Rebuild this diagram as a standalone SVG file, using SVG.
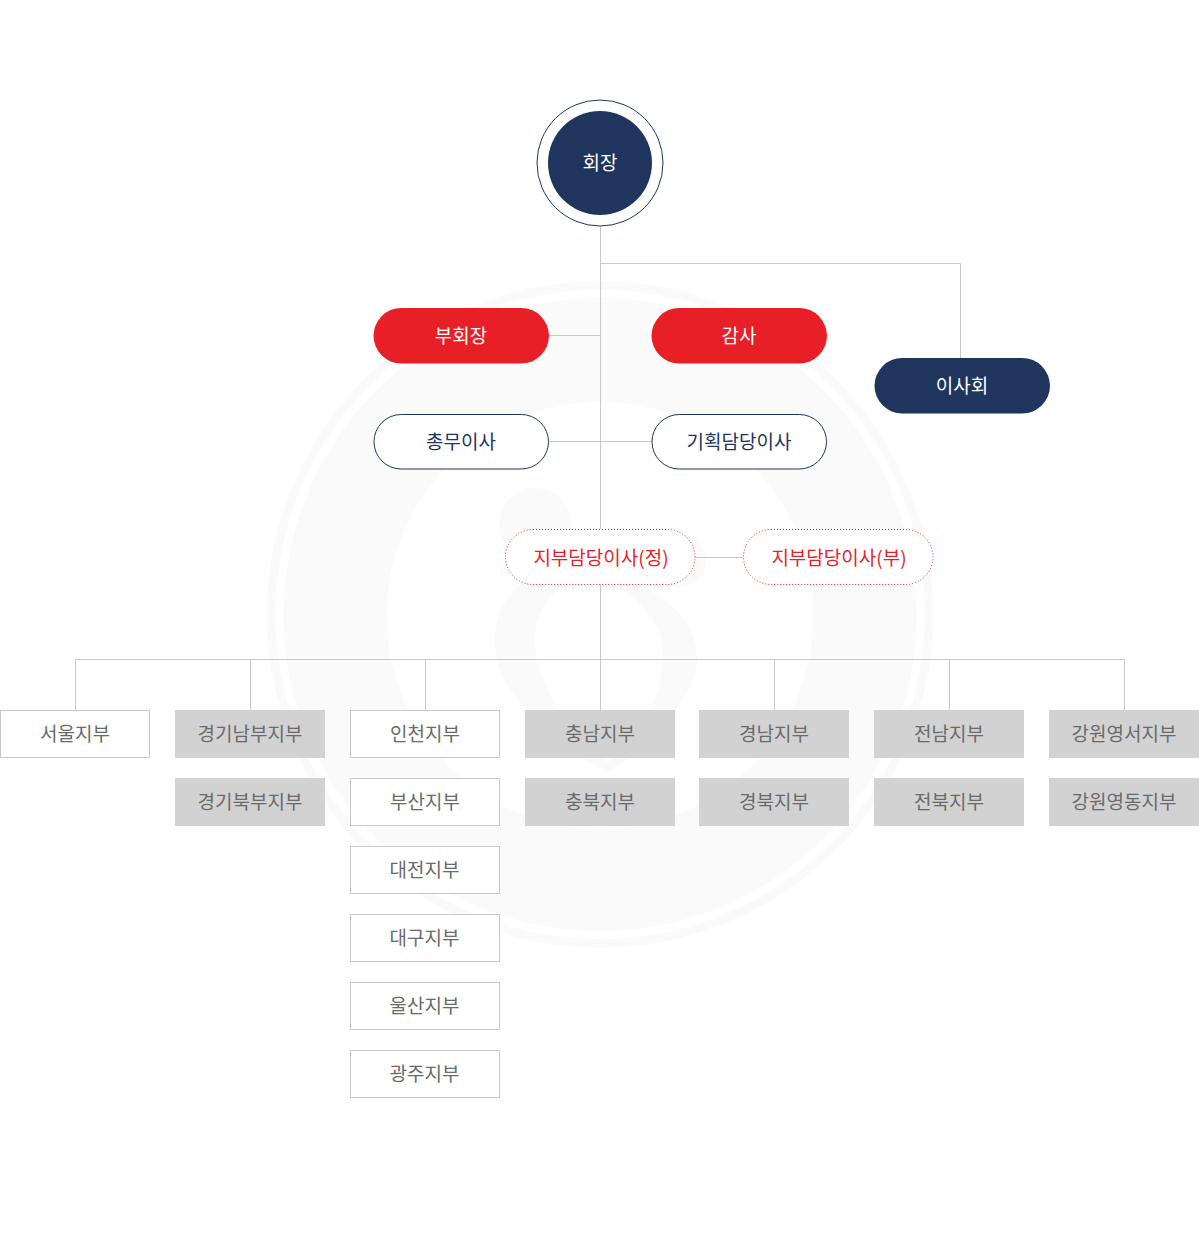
<svg xmlns="http://www.w3.org/2000/svg" width="1199" height="1238" viewBox="0 0 1199 1238">
<style>
text{font-family:"Noto Sans CJK KR","Noto Sans",sans-serif;font-size:19px;text-anchor:middle;dominant-baseline:central;font-weight:400}
.c{fill:none;stroke:#c8c8c8;stroke-width:1}
.w{fill:#fff;stroke:#c8c8c8;stroke-width:1}
.g{fill:#d2d2d2}
.bt{fill:#6a6a6a}
.red{fill:#e81f27}
.navy{fill:#1f355e}
.line{fill:#fff;stroke:#1f355e;stroke-width:1}
.dot{fill:#fff;stroke:#e81f27;stroke-width:1;stroke-dasharray:1 2}
.tw{fill:#fff}
.tn{fill:#1f355e}
.tr{fill:#e81f27}
.wm{fill:#fafafa}
</style>
<g id="watermark">
<circle cx="600" cy="614.500" r="329" fill="none" stroke="#fafafa" stroke-width="8.500"/>
<path class="wm" fill-rule="evenodd" d="M600 298a316.500 316.500 0 1 0 .01 0ZM600 402a213.500 213.500 0 1 1-.01 0Z"/>
<circle class="wm" cx="535.300" cy="524" r="36"/>
<circle class="wm" cx="680" cy="561" r="26"/>
<path class="wm" fill-rule="evenodd" d="M607 772L583 758C565 745 545 730 527 710C505 687 494 665 494.700 637C495 610 510 590 530 578L625 578C665 595 697 620 697 657C697 675 688 695 675 710C663 725 650 743 630 758ZM535 643C535 615 545 600 565 582L612 582C640 600 663 625 663 653C663 675 655 700 650 712C640 735 625 750 607 762C590 745 572 730 558 710C545 685 535 665 535 643Z"/>
</g>
<g id="connectors">
<path class="c" d="M600.500 226V710M600.500 263.500H960.500V358M549 335.500H600.500M549 441.500H652M695 557.500H743M75.500 659.500H1124.500M75.500 659.500V710M250.500 659.500V710M425.500 659.500V710M774.500 659.500V710M949.500 659.500V710M1124.500 659.500V710"/>
</g>
<g id="n-president">
<circle cx="600" cy="163" r="63" fill="#fff" stroke="#1f355e"/>
<circle class="navy" cx="600" cy="163" r="52"/>
<text class="tw" x="600" y="161">회장</text>
</g>
<g id="n-vice"><rect class="red" x="373.500" y="308" width="175.500" height="55.500" rx="27.750"/><text class="tw" x="461" y="334">부회장</text></g>
<g id="n-audit"><rect class="red" x="651.500" y="308" width="175.500" height="55.500" rx="27.750"/><text class="tw" x="739" y="334">감사</text></g>
<g id="n-board"><rect class="navy" x="874.500" y="358" width="175.500" height="55.500" rx="27.750"/><text class="tw" x="962" y="384">이사회</text></g>
<g id="n-general"><rect class="line" x="374" y="414.500" width="174.500" height="54.500" rx="27.250"/><text class="tn" x="461" y="440">총무이사</text></g>
<g id="n-planning"><rect class="line" x="652" y="414.500" width="174.500" height="54.500" rx="27.250"/><text class="tn" x="739" y="440">기획담당이사</text></g>
<g id="n-branch-a"><rect class="dot" x="505.500" y="529.500" width="189.500" height="55" rx="27.500"/><text class="tr" x="601" y="556">지부담당이사(정)</text></g>
<g id="n-branch-b"><rect class="dot" x="743.500" y="529.500" width="189.500" height="55" rx="27.500"/><text class="tr" x="839" y="556">지부담당이사(부)</text></g>
<g id="n-seoul"><rect class="w" x="0.500" y="710.500" width="149" height="47"/><text class="bt" x="75" y="732">서울지부</text></g>
<g id="n-gyeonggi-s"><rect class="g" x="175" y="710" width="150" height="48"/><text class="bt" x="250" y="732">경기남부지부</text></g>
<g id="n-gyeonggi-n"><rect class="g" x="175" y="778" width="150" height="48"/><text class="bt" x="250" y="800">경기북부지부</text></g>
<g id="n-incheon"><rect class="w" x="350.500" y="710.500" width="149" height="47"/><text class="bt" x="425" y="732">인천지부</text></g>
<g id="n-busan"><rect class="w" x="350.500" y="778.500" width="149" height="47"/><text class="bt" x="425" y="800">부산지부</text></g>
<g id="n-daejeon"><rect class="w" x="350.500" y="846.500" width="149" height="47"/><text class="bt" x="424.500" y="868">대전지부</text></g>
<g id="n-daegu"><rect class="w" x="350.500" y="914.500" width="149" height="47"/><text class="bt" x="424.500" y="936">대구지부</text></g>
<g id="n-ulsan"><rect class="w" x="350.500" y="982.500" width="149" height="47"/><text class="bt" x="424.500" y="1004">울산지부</text></g>
<g id="n-gwangju"><rect class="w" x="350.500" y="1050.500" width="149" height="47"/><text class="bt" x="424.500" y="1072">광주지부</text></g>
<g id="n-chungnam"><rect class="g" x="525" y="710" width="150" height="48"/><text class="bt" x="600" y="732">충남지부</text></g>
<g id="n-chungbuk"><rect class="g" x="525" y="778" width="150" height="48"/><text class="bt" x="600" y="800">충북지부</text></g>
<g id="n-gyeongnam"><rect class="g" x="699" y="710" width="150" height="48"/><text class="bt" x="774" y="732">경남지부</text></g>
<g id="n-gyeongbuk"><rect class="g" x="699" y="778" width="150" height="48"/><text class="bt" x="774" y="800">경북지부</text></g>
<g id="n-jeonnam"><rect class="g" x="874" y="710" width="150" height="48"/><text class="bt" x="949" y="732">전남지부</text></g>
<g id="n-jeonbuk"><rect class="g" x="874" y="778" width="150" height="48"/><text class="bt" x="949" y="800">전북지부</text></g>
<g id="n-gangwon-w"><rect class="g" x="1049" y="710" width="150" height="48"/><text class="bt" x="1124" y="732">강원영서지부</text></g>
<g id="n-gangwon-e"><rect class="g" x="1049" y="778" width="150" height="48"/><text class="bt" x="1124" y="800">강원영동지부</text></g>
</svg>
